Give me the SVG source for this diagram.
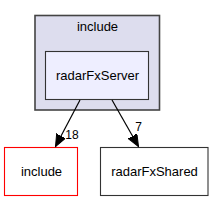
<svg xmlns="http://www.w3.org/2000/svg" width="213" height="201" viewBox="0 0 213 201">
<defs>
<style>
text{font-family:"Liberation Sans",Arial,sans-serif;font-size:13px;text-anchor:middle;fill:#000}
text.lbl{font-size:12px}
.edge{stroke:#000;stroke-width:1.2;fill:none}
</style>
<marker id="ah" markerWidth="14" markerHeight="12" refX="12" refY="5" orient="auto" markerUnits="userSpaceOnUse">
<path d="M0,0 L12,5 L0,10 Z" fill="#000" stroke="#000" stroke-width="1"/>
</marker>
</defs>
<rect width="213" height="201" fill="#fff"/>
<g id="cluster_include">
<rect x="35" y="15.5" width="124.5" height="94.5" fill="#ddddee" stroke="#444444" stroke-width="1.6"/>
<text x="97.5" y="31">include</text>
</g>
<g id="node_radarFxServer">
<rect x="45.5" y="51.5" width="103" height="48" fill="#eeeeff" stroke="#333333" stroke-width="1.1"/>
<text x="97.5" y="80">radarFxServer</text>
</g>
<g id="node_include">
<rect x="4.5" y="147.5" width="73" height="48" fill="#fff" stroke="#ff0000" stroke-width="1.1"/>
<text x="41.5" y="176">include</text>
</g>
<g id="node_radarFxShared">
<rect x="100.5" y="147.5" width="107.5" height="48" fill="#fff" stroke="#333333" stroke-width="1.1"/>
<text x="154.5" y="176">radarFxShared</text>
</g>
<g id="connectors">
<path class="edge" d="M80,100 L55.5,146.5" marker-end="url(#ah)"/>
<text class="lbl" x="72" y="139">18</text>
<path class="edge" d="M112,100 L138.5,146.5" marker-end="url(#ah)"/>
<text class="lbl" x="138.5" y="131">7</text>
</g>
</svg>
